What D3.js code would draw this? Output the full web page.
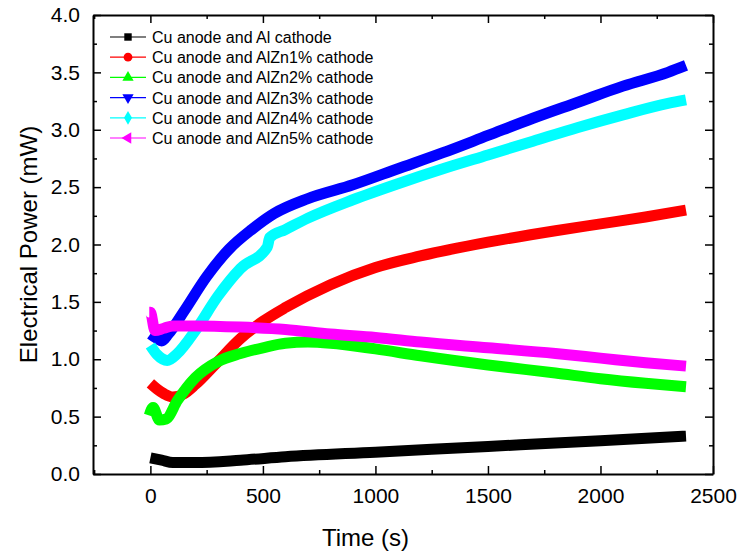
<!DOCTYPE html>
<html>
<head>
<meta charset="utf-8">
<script src="https://cdn.jsdelivr.net/npm/d3@7"></script>
<style>
  body { margin: 0; background: #fff; }
  svg { font-family: "Liberation Sans", Arial, sans-serif; }
</style>
</head>
<body>
<main></main>
<script>
"use strict";

// Series data (time in s, power in mW)
const seriesNames = [
  "Cu anode and Al cathode",
  "Cu anode and AlZn1% cathode",
  "Cu anode and AlZn2% cathode",
  "Cu anode and AlZn3% cathode",
  "Cu anode and AlZn4% cathode",
  "Cu anode and AlZn5% cathode",
];
const seriesColors = ["#000000", "#ff0000", "#00ff00", "#0000ff", "#00ffff", "#ff00ff"];
const seriesSymbols = ["square", "circle", "triangle", "triangleDown", "diamond", "triangleLeft"];

const timeAl = [0, 50, 100, 200, 400, 600, 1000, 1500, 2000, 2380];
const powerAl = [0.14, 0.12, 0.1, 0.1, 0.12, 0.15, 0.19, 0.24, 0.29, 0.33];

const timeZn1 = [0, 30, 60, 100, 150, 200, 300, 400, 500, 600, 800, 1000, 1200, 1500, 1800, 2000, 2200, 2380];
const powerZn1 = [0.79, 0.74, 0.7, 0.67, 0.7, 0.78, 0.98, 1.18, 1.33, 1.45, 1.65, 1.8, 1.9, 2.02, 2.12, 2.18, 2.24, 2.3];

const timeZn2 = [-5, 12, 40, 70, 120, 200, 300, 400, 500, 600, 700, 800, 1000, 1200, 1500, 1800, 2000, 2200, 2380];
const powerZn2 = [0.51, 0.58, 0.47, 0.48, 0.64, 0.84, 0.98, 1.05, 1.1, 1.14, 1.15, 1.14, 1.09, 1.03, 0.95, 0.88, 0.83, 0.79, 0.76];

const timeZn3 = [0, 30, 50, 80, 150, 250, 350, 450, 550, 700, 900, 1100, 1300, 1500, 1700, 1900, 2100, 2300, 2380];
const powerZn3 = [1.22, 1.18, 1.16, 1.22, 1.42, 1.72, 1.96, 2.13, 2.27, 2.4, 2.52, 2.66, 2.8, 2.95, 3.1, 3.24, 3.38, 3.5, 3.56];

const timeZn4 = [0, 30, 75, 120, 200, 300, 400, 520, 530, 600, 700, 900, 1100, 1300, 1500, 1700, 1900, 2100, 2300, 2380];
const powerZn4 = [1.12, 1.04, 0.99, 1.05, 1.25, 1.55, 1.79, 1.98, 2.06, 2.13, 2.23, 2.39, 2.53, 2.66, 2.78, 2.9, 3.02, 3.13, 3.23, 3.26];

const timeZn5 = [-5, 0, 20, 60, 100, 200, 400, 600, 800, 1000, 1200, 1500, 1800, 2000, 2200, 2380];
const powerZn5 = [1.41, 1.41, 1.25, 1.27, 1.29, 1.29, 1.28, 1.26, 1.22, 1.19, 1.15, 1.1, 1.05, 1.01, 0.97, 0.94];

const seriesTimes = [timeAl, timeZn1, timeZn2, timeZn3, timeZn4, timeZn5];
const seriesPowers = [powerAl, powerZn1, powerZn2, powerZn3, powerZn4, powerZn5];

const xTicks = [0, 500, 1000, 1500, 2000, 2500];
const yTicks = [0.0, 0.5, 1.0, 1.5, 2.0, 2.5, 3.0, 3.5, 4.0];

const w = 741;
const h = 551;
const margin = { top: 15, right: 28, bottom: 77, left: 93 };
const innerW = w - margin.left - margin.right;
const innerH = h - margin.top - margin.bottom;

const svg = d3.select("main").append("svg").attr("width", w).attr("height", h);
const g = svg.append("g").attr("transform", `translate(${margin.left}, ${margin.top})`);

const x = d3.scaleLinear().domain([-255, 2500]).range([0, innerW]);
const y = d3.scaleLinear().domain([0, 4]).range([innerH, 0]);

// Clip so thick bands stay inside the frame
svg.append("defs").append("clipPath").attr("id", "plotClip")
  .append("rect").attr("width", innerW).attr("height", innerH);

const line = d3.line()
  .x((d) => x(d[0]))
  .y((d) => y(d[1]))
  .curve(d3.curveMonotoneX);

const plot = g.append("g").attr("clip-path", "url(#plotClip)");
seriesNames.forEach((name, i) => {
  const pts = seriesTimes[i].map((t, j) => [t, seriesPowers[i][j]]);
  plot.append("path")
    .datum(pts)
    .attr("fill", "none")
    .attr("stroke", seriesColors[i])
    .attr("stroke-width", 11)
    .attr("stroke-linejoin", "round")
    .attr("stroke-linecap", "butt")
    .attr("d", line);
});

// Axes: ticks inside, minor ticks between
const minorX = d3.range(-250, 2501, 250).filter((v) => v % 500 !== 0);
const minorY = d3.range(0.25, 4, 0.5);

const axisGroup = (axis) => (sel) => {
  sel.call(axis);
  sel.select(".domain").attr("stroke-width", 2);
  sel.selectAll(".tick line").attr("stroke-width", 1.5);
};

g.append("g").attr("transform", `translate(0, ${innerH})`)
  .call(axisGroup(d3.axisBottom(x).tickValues(xTicks).tickSizeInner(-8).tickSizeOuter(0).tickPadding(14).tickFormat(d3.format("d"))))
  .call((s) => s.selectAll("text").attr("font-size", 21).attr("fill", "#000"));
g.append("g").attr("transform", `translate(0, ${innerH})`)
  .call(axisGroup(d3.axisBottom(x).tickValues(minorX).tickSizeInner(-4).tickSizeOuter(0).tickFormat("")))
  .call((s) => s.select(".domain").remove());

g.append("g")
  .call(axisGroup(d3.axisLeft(y).tickValues(yTicks).tickSizeInner(-8).tickSizeOuter(0).tickPadding(13).tickFormat(d3.format(".1f"))))
  .call((s) => s.selectAll("text").attr("font-size", 21).attr("fill", "#000"));
g.append("g")
  .call(axisGroup(d3.axisLeft(y).tickValues(minorY).tickSizeInner(-4).tickSizeOuter(0).tickFormat("")))
  .call((s) => s.select(".domain").remove());

g.append("g")
  .call(axisGroup(d3.axisTop(x).tickValues(xTicks).tickSizeInner(-8).tickSizeOuter(0).tickFormat("")));
g.append("g")
  .call(axisGroup(d3.axisTop(x).tickValues(minorX).tickSizeInner(-4).tickSizeOuter(0).tickFormat("")))
  .call((s) => s.select(".domain").remove());

g.append("g").attr("transform", `translate(${innerW}, 0)`)
  .call(axisGroup(d3.axisRight(y).tickValues(yTicks).tickSizeInner(-8).tickSizeOuter(0).tickFormat("")));
g.append("g").attr("transform", `translate(${innerW}, 0)`)
  .call(axisGroup(d3.axisRight(y).tickValues(minorY).tickSizeInner(-4).tickSizeOuter(0).tickFormat("")))
  .call((s) => s.select(".domain").remove());

// Axis titles
svg.append("text")
  .attr("x", margin.left + x(1000) - 10)
  .attr("y", 546)
  .attr("text-anchor", "middle")
  .attr("font-size", 24)
  .text("Time (s)");

svg.append("text")
  .attr("transform", `translate(37, ${margin.top + innerH / 2}) rotate(-90)`)
  .attr("text-anchor", "middle")
  .attr("font-size", 24)
  .text("Electrical Power (mW)");

// Legend
const symbolTypes = {
  square: d3.symbolSquare,
  circle: d3.symbolCircle,
  triangle: d3.symbolTriangle,
  triangleDown: d3.symbolTriangle,
  diamond: d3.symbolDiamond,
  triangleLeft: d3.symbolTriangle,
};
const symbolRotate = { triangleDown: 180, triangleLeft: -90 };

const legend = svg.append("g").attr("transform", "translate(110, 37)");
seriesNames.forEach((name, i) => {
  const row = legend.append("g").attr("transform", `translate(0, ${i * 20.2})`);
  row.append("line")
    .attr("x1", 0).attr("x2", 36)
    .attr("stroke", seriesColors[i])
    .attr("stroke-width", 1.2);
  row.append("path")
    .attr("d", d3.symbol().type(symbolTypes[seriesSymbols[i]]).size(seriesSymbols[i] === "circle" ? 60 : 55)())
    .attr("transform", `translate(18, 0) rotate(${symbolRotate[seriesSymbols[i]] || 0})`)
    .attr("fill", seriesColors[i]);
  row.append("text")
    .attr("x", 42)
    .attr("y", 6)
    .attr("font-size", 16)
    .text(name);
});
</script>
</body>
</html>
